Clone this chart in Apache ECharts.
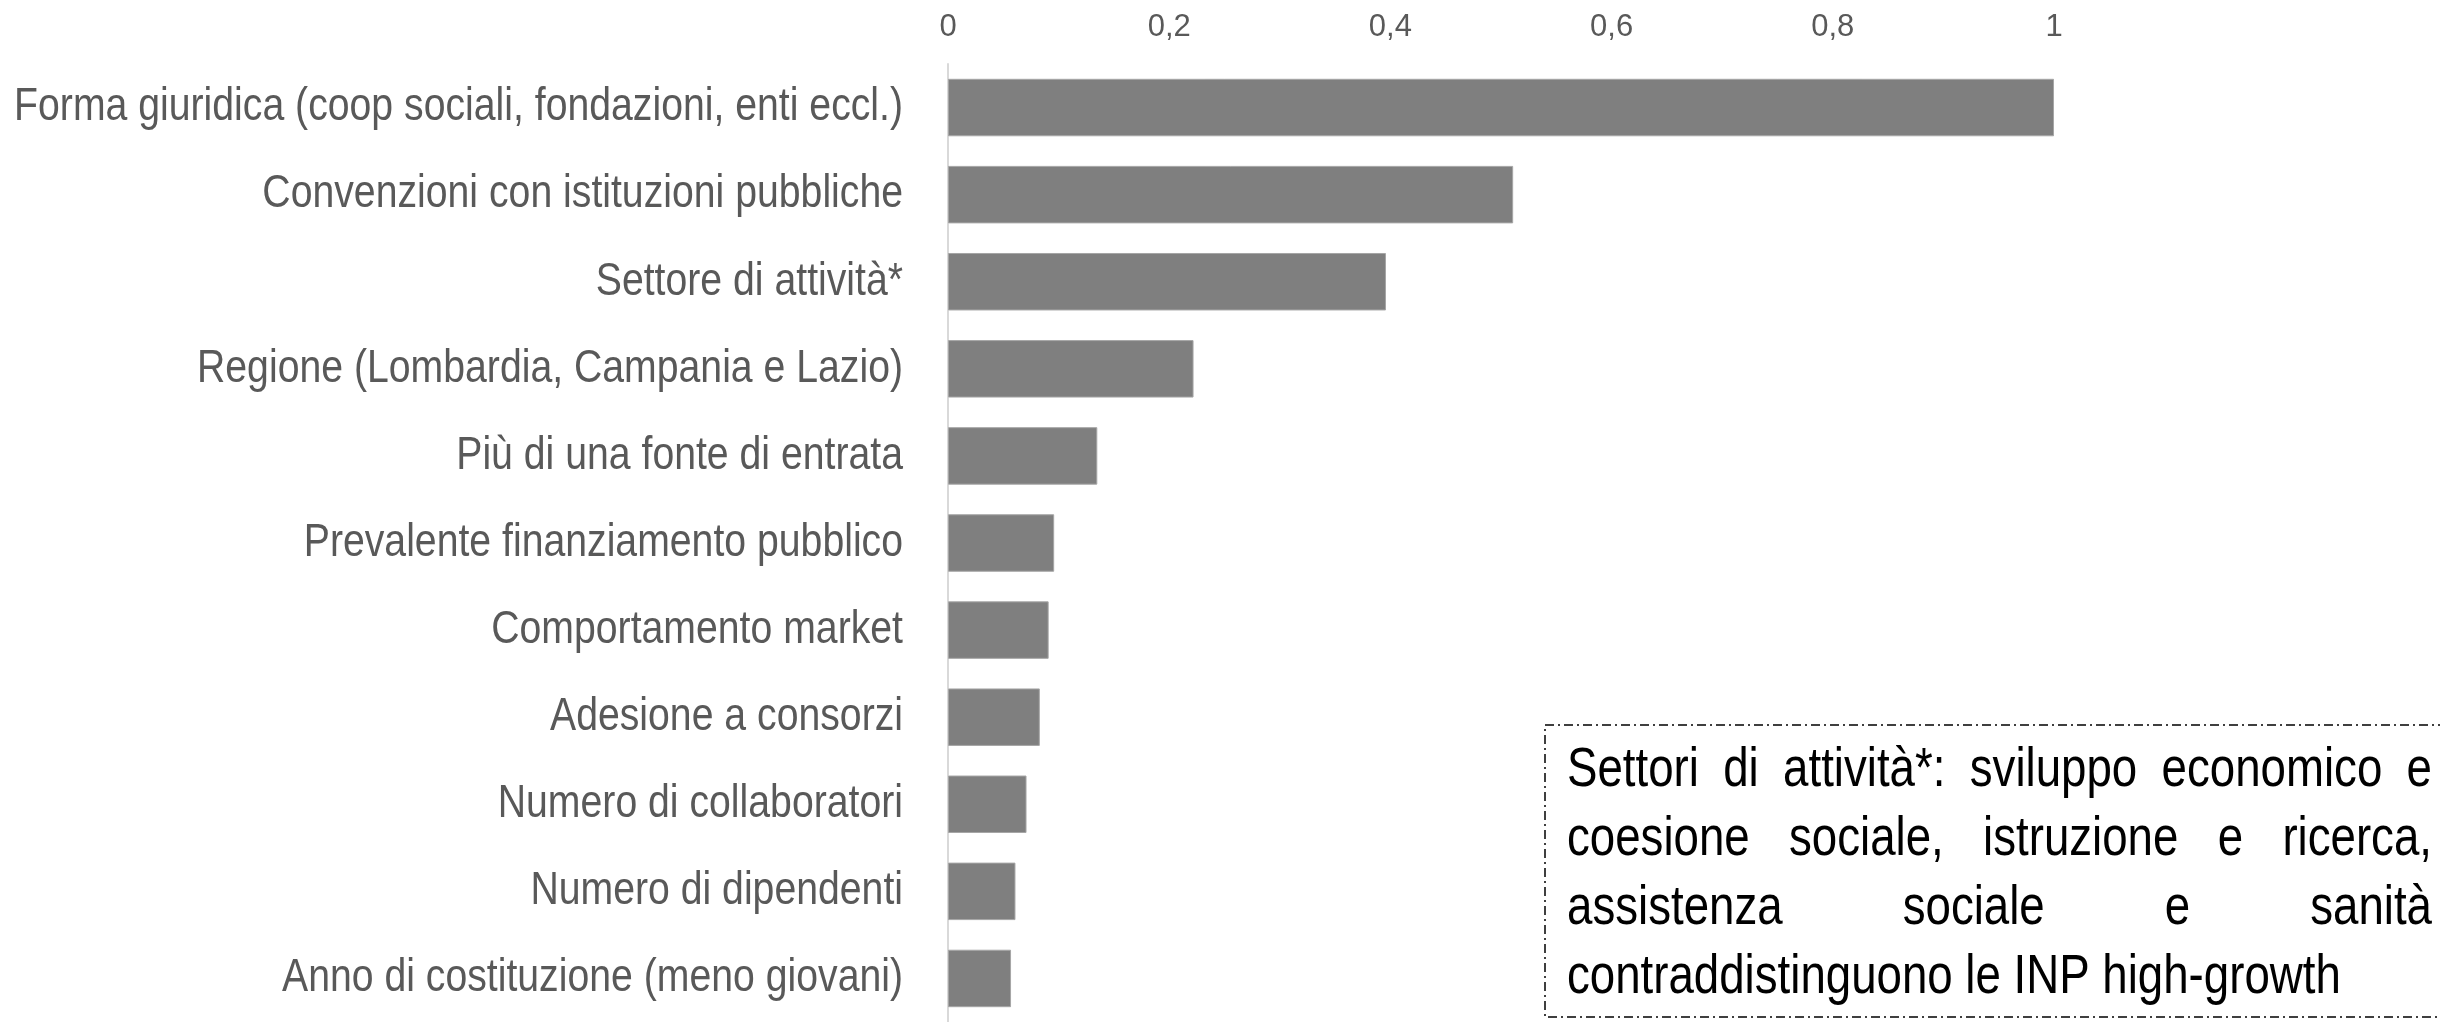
<!DOCTYPE html>
<html>
<head>
<meta charset="utf-8">
<script src="https://cdn.jsdelivr.net/npm/echarts@6/dist/echarts.min.js"></script>
<style>
html,body{margin:0;padding:0;background:#fff;}
#chart{width:2440px;height:1022px;}
</style>
</head>
<body>
<div id="chart"></div>
<script>
// ---- data ----
const categories = [
  "Forma giuridica (coop sociali, fondazioni, enti eccl.)",
  "Convenzioni con istituzioni pubbliche",
  "Settore di attività*",
  "Regione (Lombardia, Campania e Lazio)",
  "Più di una fonte di entrata",
  "Prevalente finanziamento pubblico",
  "Comportamento market",
  "Adesione a consorzi",
  "Numero di collaboratori",
  "Numero di dipendenti",
  "Anno di costituzione (meno giovani)"
];
const values = [1.0, 0.511, 0.396, 0.222, 0.135, 0.096, 0.091, 0.083, 0.071, 0.061, 0.057];
const xMin = 0, xMax = 1, xInterval = 0.2;
const noteLines = [
  "Settori di attività*: sviluppo economico e",
  "coesione sociale, istruzione e ricerca,",
  "assistenza sociale e sanità",
  "contraddistinguono le INP high-growth"
];
const noteJustify = [true, true, true, false];

// ---- styling helpers ----
const FAM = '"Liberation Sans", Arial, sans-serif';
const catFont = '46.5px ' + FAM, catScale = 0.843;     // emulates a narrow face
const noteFont = '56px ' + FAM, noteScale = 0.815;
function textW(t, font){
  const c = document.createElement('canvas').getContext('2d');
  c.font = font; return c.measureText(t).width;
}

const chart = echarts.init(document.getElementById('chart'));

// ---- annotation (justified text in dash-dot box) ----
const textLeft = 1567, textRight = 2432, firstY = 771, lineStep = 68.7;
const noteEls = [{
  type: 'rect',
  shape: {x: 1545, y: 725, width: 1000, height: 292},
  style: {fill: '#fff', stroke: '#000', lineWidth: 1.5, lineDash: [9, 4, 2, 4]},
  silent: true
}];
function noteText(t, x, y){
  return {type:'text', x: x, y: y, scaleX: noteScale, silent: true,
    style:{text: t, font: noteFont, fill:'#000', textAlign:'left', align:'left',
           textVerticalAlign:'middle', verticalAlign:'middle'}};
}
noteLines.forEach(function(line, i){
  const y = firstY + i * lineStep;
  if (!noteJustify[i]) { noteEls.push(noteText(line, textLeft, y)); return; }
  const words = line.split(' ');
  const ws = words.map(w => textW(w, noteFont) * noteScale);
  const total = ws.reduce((a,b)=>a+b,0);
  const gap = (textRight - textLeft - total) / (words.length - 1);
  let x = textLeft;
  words.forEach(function(w, k){ noteEls.push(noteText(w, x, y)); x += ws[k] + gap; });
});

chart.setOption({
  animation: false,
  grid: {left: 948, right: 386, top: 64, bottom: -8, containLabel: false},
  xAxis: {
    type: 'value', position: 'top', min: xMin, max: xMax, interval: xInterval,
    axisLine: {show: false}, axisTick: {show: false}, splitLine: {show: false},
    axisLabel: {
      color: '#595959', fontSize: 31, fontFamily: FAM, margin: 21,
      formatter: v => String(+v.toFixed(1)).replace('.', ',')
    }
  },
  yAxis: {
    type: 'category', data: categories, inverse: true,
    axisLine: {show: true, lineStyle: {color: '#d9d9d9', width: 2}},
    axisTick: {show: false},
    axisLabel: {show: false}
  },
  series: [{
    type: 'bar', data: values, barCategoryGap: '34%',
    itemStyle: {color: '#7f7f7f', borderColor: '#a6a6a6', borderWidth: 1}
  }, {
    // category labels, placed through the axis scales, drawn condensed
    type: 'custom', clip: false, silent: true,
    data: categories.map((c, i) => [0, i]),
    renderItem: function(params, api){
      const p = api.coord([0, api.value(1)]);
      return {type: 'text', x: p[0] - 45, y: p[1], scaleX: catScale,
        style: {text: categories[params.dataIndex], font: catFont, fill: '#595959',
                textAlign: 'right', align: 'right', textVerticalAlign: 'middle', verticalAlign: 'middle'}};
    }
  }],
  graphic: noteEls
});
</script>
</body>
</html>
